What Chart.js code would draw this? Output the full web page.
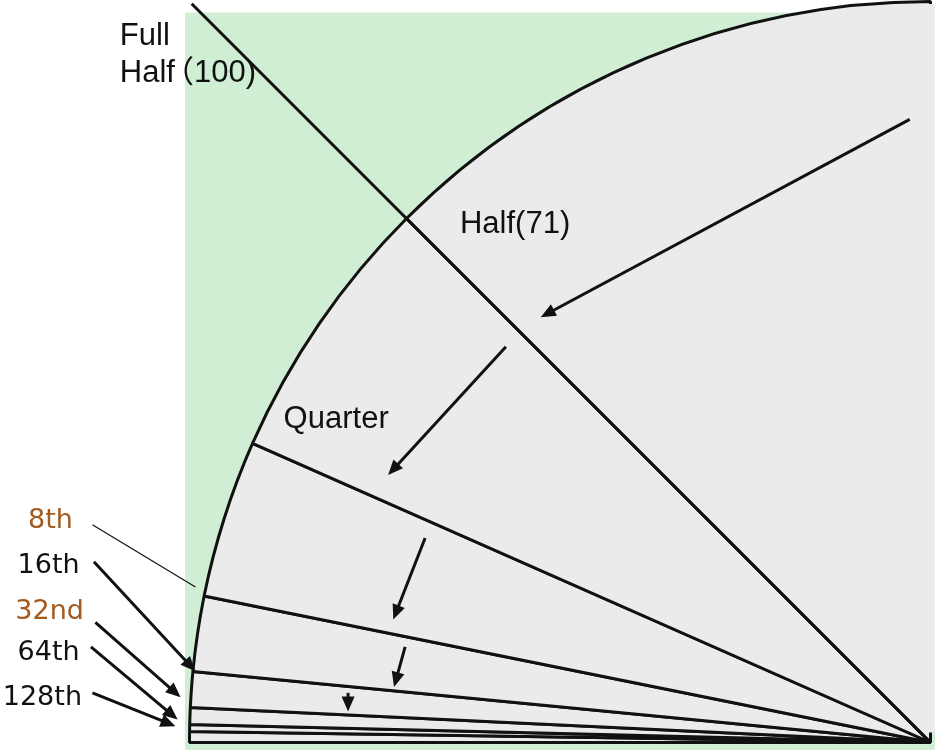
<!DOCTYPE html>
<html>
<head>
<meta charset="utf-8">
<script src="https://cdn.jsdelivr.net/npm/chart.js@4.4.0/dist/chart.umd.min.js"></script>
<style>
  html, body { margin: 0; padding: 0; background: #fff; }
  #wrap { position: relative; width: 935px; height: 753px; }
</style>
</head>
<body>
<div id="wrap"><canvas id="fan"></canvas></div>
<script>
// wedges of the quarter circle, bottom (left edge) upwards, in degrees
const wedgeLabels = ['rest', '128th', '64th', '32nd', '16th', '8th', 'Quarter', 'Half'];
const wedgeAngles = [0.85, 0.55, 1.3, 2.8, 5.9, 12.4, 21.2, 45];

// text labels
const labelTexts = ['Full', 'Half\uFF08100)', 'Half(71)', 'Quarter', '8th', '16th', '32nd', '64th', '128th'];
const labelColors = ['#111', '#111', '#111', '#111', '#a35a1e', '#111', '#a35a1e', '#111', '#111'];

// layout of the annotations, in units of the radius, relative to the fan centre
const labelPos = [
    [-1.094, -0.941], [-1.094, -0.891], [-0.635, -0.687], [-0.873, -0.425],
    [-1.218, -0.290], [-1.232, -0.229], [-1.235, -0.166], [-1.232, -0.112], [-1.252, -0.050]
];
const labelFont = ['31px "Liberation Sans"', '31px "Liberation Sans", "Noto Sans CJK SC"',
    '31px "Liberation Sans"', '31px "Liberation Sans"',
    '27px "DejaVu Sans"', '27px "DejaVu Sans"', '27px "DejaVu Sans"', '27px "DejaVu Sans"', '27px "DejaVu Sans"'];
const arrows = [
    [-0.028, -0.841, -0.526, -0.574],
    [-0.573, -0.534, -0.732, -0.361],
    [-0.682, -0.276, -0.725, -0.166],
    [-0.709, -0.129, -0.724, -0.075],
    [-0.786, -0.067, -0.786, -0.042],
    [-1.129, -0.244, -0.992, -0.096],
    [-1.127, -0.162, -1.012, -0.061],
    [-1.133, -0.129, -1.016, -0.031],
    [-1.131, -0.067, -1.019, -0.022]
];
const pointer = [-1.131, -0.294, -0.992, -0.210];

const drawArrow = (ctx, x1, y1, x2, y2) => {
    const a = Math.atan2(y2 - y1, x2 - x1);
    const head = 15, half = 6.5;
    ctx.beginPath();
    ctx.moveTo(x1, y1);
    ctx.lineTo(x2 - Math.cos(a) * head * 0.8, y2 - Math.sin(a) * head * 0.8);
    ctx.stroke();
    ctx.beginPath();
    ctx.moveTo(x2, y2);
    ctx.lineTo(x2 - Math.cos(a) * head + Math.sin(a) * half, y2 - Math.sin(a) * head - Math.cos(a) * half);
    ctx.lineTo(x2 - Math.cos(a) * head - Math.sin(a) * half, y2 - Math.sin(a) * head + Math.cos(a) * half);
    ctx.closePath();
    ctx.fill();
};

// the full-width bracket leaves a wide gap in the CJK font, so pull it in
const drawLabel = (ctx, txt, x, y) => {
    const k = txt.indexOf('\uFF08');
    if (k < 0) {
        ctx.fillText(txt, x, y);
        return;
    }
    const head = txt.slice(0, k);
    ctx.fillText(head, x, y);
    ctx.fillText(txt.slice(k), x + ctx.measureText(head).width - 12, y);
};

const sketchPlugin = {
    id: 'sketch',
    beforeDatasetsDraw(chart) {
        const arc = chart.getDatasetMeta(0).data[0];
        const {x, y, outerRadius: R} = arc;
        const ctx = chart.ctx;
        ctx.save();
        ctx.fillStyle = '#cfeed3';
        const left = x - R * 1.006, top = y - R * 0.985;
        ctx.fillRect(left, top, chart.width - left, y + R * 0.01 - top);
        ctx.restore();
    },
    afterDatasetsDraw(chart) {
        const arc = chart.getDatasetMeta(0).data[0];
        const {x: cx, y: cy, outerRadius: R} = arc;
        const ctx = chart.ctx;
        ctx.save();
        // hide the vertical edge of the top wedge
        ctx.fillStyle = '#ebebeb';
        ctx.fillRect(cx - 1.5, 4, chart.width - cx + 2, cy - 14);
        // the full diagonal, continued past the arc to the corner of the square
        const halfStart = wedgeAngles.slice(0, wedgeAngles.length - 1).reduce((s, v) => s + v, 0);
        const t = halfStart * Math.PI / 180;
        ctx.strokeStyle = '#111';
        ctx.lineWidth = 3;
        ctx.beginPath();
        ctx.moveTo(cx, cy);
        ctx.lineTo(cx - Math.cos(t) * R * 1.41, cy - Math.sin(t) * R * 1.41);
        ctx.stroke();
        // arrows
        ctx.fillStyle = '#111';
        ctx.lineWidth = 3;
        arrows.forEach(a => {
            drawArrow(ctx, cx + a[0] * R, cy + a[1] * R, cx + a[2] * R, cy + a[3] * R);
        });
        ctx.lineWidth = 1.2;
        ctx.beginPath();
        ctx.moveTo(cx + pointer[0] * R, cy + pointer[1] * R);
        ctx.lineTo(cx + pointer[2] * R, cy + pointer[3] * R);
        ctx.stroke();
        // labels
        ctx.textBaseline = 'alphabetic';
        ctx.textAlign = 'left';
        labelTexts.forEach((txt, i) => {
            ctx.font = labelFont[i];
            ctx.fillStyle = labelColors[i];
            drawLabel(ctx, txt, cx + labelPos[i][0] * R, cy + labelPos[i][1] * R);
        });
        ctx.restore();
    }
};

const chart = new Chart(document.getElementById('fan'), {
    type: 'pie',
    data: {
        labels: wedgeLabels,
        datasets: [{
            data: wedgeAngles,
            backgroundColor: '#ebebeb',
            borderColor: '#111',
            borderWidth: 3,
            hoverOffset: 0
        }]
    },
    options: {
        responsive: true,
        maintainAspectRatio: false,
        animation: false,
        events: [],
        rotation: 270,
        circumference: 90,
        layout: {
            padding: { left: 187, right: 2, top: 0, bottom: 9 }
        },
        plugins: {
            legend: { display: false },
            tooltip: { enabled: false }
        }
    },
    plugins: [sketchPlugin]
});
</script>
</body>
</html>
